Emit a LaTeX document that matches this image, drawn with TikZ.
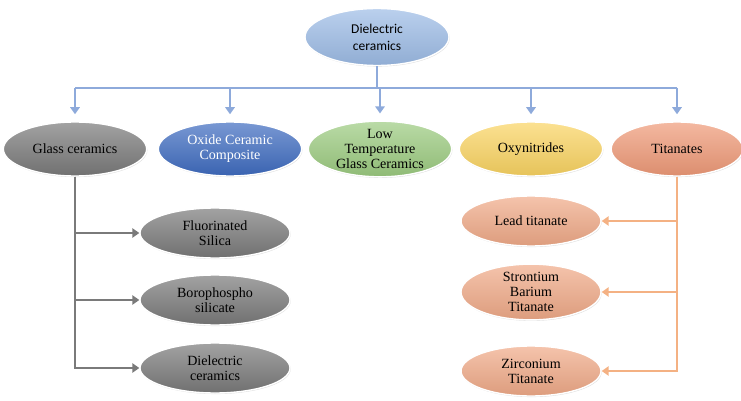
\documentclass[tikz,border=0pt]{standalone}
\usepackage{fontspec}
\setmainfont{Liberation Serif}
\newfontfamily\calfont{Carlito}
\usetikzlibrary{shapes.geometric,arrows.meta,shadows}

\definecolor{topblue}{HTML}{9DBCE6}
\definecolor{linkblue}{HTML}{8EAADB}
\definecolor{glassgray}{HTML}{7A7A7A}
\definecolor{oxideblue}{HTML}{3F6CC0}
\definecolor{lowgreen}{HTML}{9CCB80}
\definecolor{oxyyellow}{HTML}{FAD462}
\definecolor{titansalmon}{HTML}{EF9A78}
\definecolor{subsalmon}{HTML}{F0AA88}
\definecolor{linkorange}{HTML}{F4B183}

\tikzset{
  blob/.style={ellipse, inner sep=0pt, draw=white, line width=1.2pt,
    drop shadow={shadow xshift=0.6pt, shadow yshift=-0.9pt, opacity=0.25},
    align=center, font=\fontsize{12}{12.8}\selectfont, text=black},
  mainbox/.style={blob, minimum width=4.3cm, minimum height=1.62cm},
  subbox/.style={blob, minimum width=4.5cm, minimum height=1.5cm},
  tint/.style={top color=#1!70, bottom color=#1!92!black},
  bline/.style={draw=linkblue, line width=2pt},
  gline/.style={draw=glassgray, line width=2pt},
  oline/.style={draw=linkorange, line width=2pt},
  tip/.style={-{Triangle[width=8pt,length=6pt]}}
}

\begin{document}
\begin{tikzpicture}[x=0.03cm, y=-0.03cm]
  \useasboundingbox (0,0) rectangle (741,401);

  % --- root ---
  \node[blob, tint=topblue, minimum width=4.32cm, minimum height=1.71cm,
        font=\calfont\fontsize{11.5}{14.5}\selectfont] (root) at (377,37)
        {Dielectric\\ceramics};

  % --- classes ---
  \node[mainbox, tint=glassgray] (glass) at (75,149) {Glass ceramics};
  \node[mainbox, tint=oxideblue, text=white] (oxide) at (230,149) {Oxide Ceramic\\Composite};
  \node[mainbox, tint=lowgreen] (lowtemp) at (380,149) {Low\\Temperature\\Glass Ceramics};
  \node[mainbox, tint=oxyyellow] (oxy) at (531,149) {Oxynitrides};
  \node[mainbox, tint=titansalmon, minimum width=3.95cm] (titan) at (677,149) {Titanates};

  % --- glass ceramics members ---
  \node[subbox, tint=glassgray] (fsilica) at (215,233) {Fluorinated\\Silica};
  \node[subbox, tint=glassgray] (bpsg) at (215,300) {Borophospho\\silicate};
  \node[subbox, tint=glassgray] (dcer) at (215,368) {Dielectric\\ceramics};

  % --- titanates members ---
  \node[subbox, tint=subsalmon, minimum width=4.2cm] (lead) at (531,221) {Lead titanate};
  \node[subbox, tint=subsalmon, minimum width=4.2cm] (sbt) at (531,292) {Strontium\\Barium\\Titanate};
  \node[subbox, tint=subsalmon, minimum width=4.2cm] (zirc) at (531,371) {Zirconium\\Titanate};

  % --- root to classes ---
  \coordinate (bar) at (0,88);
  \draw[bline] (root.south) -- (root.south |- bar);
  \draw[bline] (glass.north |- bar) -- (titan.north |- bar);
  \foreach \cls in {glass,oxide,lowtemp,oxy,titan}
    \draw[bline, tip, shorten >=6pt] (\cls.north |- bar) -- (\cls.north);

  % --- branches ---
  \foreach \mem in {fsilica,bpsg,dcer}
    \draw[gline, tip] (glass.south) |- (\mem.west);
  \foreach \mem in {lead,sbt,zirc}
    \draw[oline, tip] (titan.south) |- (\mem.east);

\end{tikzpicture}
\end{document}
